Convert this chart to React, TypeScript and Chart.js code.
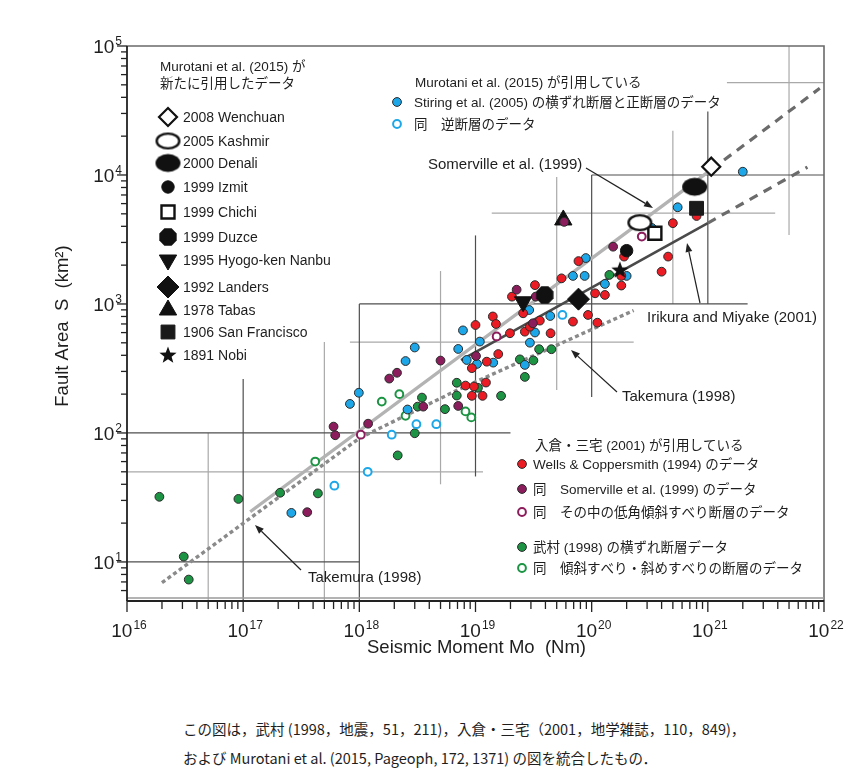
import React, { useEffect, useRef } from 'react';
import { Chart, registerables } from 'chart.js';
import { drawPoint } from 'chart.js/helpers';

Chart.register(...registerables);

// ---------------- data ----------------
const xTickExponents = [16, 17, 18, 19, 20, 21, 22];
const yTickExponents = [1, 2, 3, 4, 5];
const xAxisTitle = 'Seismic Moment Mo  (Nm)';
const yAxisTitle = 'Fault Area  S  (km²)';

// Stirling et al. (2005) strike-slip & normal (blue filled)
const stirlingSsMo = [2.6e17, 8.3e17, 9.9e17, 2.5e18, 3.0e18, 2.6e18, 7.1e18, 7.8e18, 8.4e18, 1.03e19, 1.09e19, 1.42e19, 2.66e19, 2.94e19, 3.25e19, 2.9e19, 4.4e19, 6.9e19, 8.7e19, 8.9e19, 1.3e20, 2.0e20, 3.3e20, 5.5e20, 2.0e21];
const stirlingSsS = [24, 168, 205, 361, 460, 152, 448, 624, 368, 343, 511, 351, 337, 501, 601, 898, 807, 1650, 1650, 2270, 1430, 1650, 3880, 5620, 10600];
// Stirling et al. (2005) reverse (blue open)
const stirlingRevMo = [6.1e17, 1.18e18, 1.9e18, 3.1e18, 4.6e18, 5.6e19];
const stirlingRevS = [39, 50, 97, 117, 117, 822];
// Wells & Coppersmith (1994) (red)
const wellsMo = [8.2e18, 9.7e18, 1.23e19, 9.3e18, 1.15e19, 9.3e18, 1.25e19, 1.57e19, 1.0e19, 1.41e19, 1.5e19, 1.98e19, 2.06e19, 2.57e19, 2.66e19, 2.94e19, 3.25e19, 3.58e19, 4.43e19, 5.5e19, 6.9e19, 7.7e19, 9.3e19, 1.12e20, 1.07e20, 1.3e20, 1.8e20, 1.8e20, 1.9e20, 4.0e20, 4.55e20, 5.0e20, 8.0e20];
const wellsS = [233, 229, 246, 194, 194, 318, 357, 409, 687, 800, 700, 593, 1140, 847, 610, 667, 1400, 743, 593, 1580, 730, 2150, 822, 716, 1210, 1175, 1390, 1650, 2330, 1780, 2330, 4230, 4810];
// Somerville et al. (1999) data (purple filled)
const somDataMo = [3.56e17, 6.0e17, 6.2e17, 1.19e18, 1.81e18, 2.11e18, 5.0e18, 3.55e18, 7.1e18, 1.01e19, 2.26e19, 3.12e19, 3.3e19, 1.53e20, 5.8e19];
const somDataS = [24.3, 112, 96, 118, 264, 293, 364, 160, 162, 395, 1290, 708, 1140, 2780, 4330];
// Somerville low-angle dip-slip (purple open)
const somLowMo = [1.03e18, 1.52e19, 2.7e20];
const somLowS = [97, 560, 3330];
// Takemura (1998) strike-slip (green filled)
const takSsMo = [1.9e16, 3.08e16, 3.4e16, 9.1e16, 2.08e17, 4.4e17, 2.14e18, 3.0e18, 3.18e18, 3.46e18, 5.46e18, 6.9e18, 6.9e18, 1.05e19, 1.66e19, 2.41e19, 2.66e19, 3.15e19, 3.53e19, 4.5e19, 1.42e20];
const takSsS = [32, 11.0, 7.3, 30.8, 34.4, 34, 67, 99.5, 160, 188, 153, 245, 195, 224, 194, 372, 272, 365, 446, 446, 1680];
// Takemura (1998) dip-slip / oblique (green open)
const takDipMo = [4.17e17, 1.56e18, 2.21e18, 2.5e18, 8.2e18, 9.2e18];
const takDipS = [60, 175, 200, 136, 147, 132];

// Murotani et al. (2015) newly added events
const eventNames = ['2008 Wenchuan', '2005 Kashmir', '2000 Denali', '1999 Izmit', '1999 Chichi', '1999 Duzce', '1995 Hyogo-ken Nanbu', '1992 Landers', '1978 Tabas', '1906 San Francisco', '1891 Nobi'];
const eventMo = [1.07e21, 2.6e20, 7.7e20, 2.0e20, 3.5e20, 3.95e19, 2.57e19, 7.7e19, 5.7e19, 8.0e20, 1.75e20];
const eventS = [11600, 4270, 8100, 2590, 3530, 1175, 1040, 1090, 4480, 5520, 1840];

// scaling relations
const somervilleMo = [1.15e17, 1.07e21];
const somervilleS = [24.5, 11000];
const somervilleExtMo = [1.07e21, 9.2e21];
const somervilleExtS = [11000, 47000];
const irikuraMo = [7.5e18, 1.0e21];
const irikuraS = [367, 4240];
const irikuraExtMo = [1.0e21, 7.2e21];
const irikuraExtS = [4240, 11500];
const takemuraMo = [2.0e16, 3.1e17, 1.0e18, 6.9e18, 2.3e20];
const takemuraS = [6.9, 42, 91, 214, 890];

// reference cross lines [Mo1, S1, Mo2, S2]
const decadeSegs = [
  [1e16, 10, 1e18, 10],
  [1e17, 5.07, 1e17, 262],
  [1e16, 100, 2e19, 100],
  [1e18, 5.07, 1e18, 1000],
  [1e18, 1000, 2.2e21, 1000],
  [1e19, 46, 1e19, 3400],
  [1e20, 190, 1e20, 1e4],
  [1e20, 1e4, 1e22, 1e4],
  [1e21, 1000, 1e21, 3.1e4],
];
const halfSegs = [
  [5e16, 5.07, 5e16, 100],
  [1e16, 50, 1.16e19, 50],
  [5e17, 5.07, 5e17, 507],
  [8.3e17, 507, 2.3e20, 507],
  [5e18, 40, 5e18, 1800],
  [1.38e19, 5070, 3.8e21, 5070],
  [5e19, 215, 5e19, 9640],
  [5e20, 1000, 5e20, 2.2e4],
  [5e21, 3430, 5e21, 1e5],
  [1.46e21, 5.2e4, 1e22, 5.2e4],
];

// ---------------- styles ----------------
const FONT = '"Liberation Sans", Arial, "Noto Sans CJK JP", sans-serif';
const TXT = '#1e1e1e';
const BLUE = '#1da7e8';
const RED = '#ec1c24';
const PURPLE = '#8b1d5c';
const GREEN = '#1c9444';
const OUTLINE = '#2a2a2a';

const zip = (xs: number[], ys: number[]) => xs.map((x, i) => ({ x, y: ys[i] }));

function makeCanvas(w: number, h: number, draw: (c: CanvasRenderingContext2D) => void) {
  const c = document.createElement('canvas');
  c.width = w;
  c.height = h;
  const ctx = c.getContext('2d')!;
  draw(ctx);
  return c;
}

function buildMarkers() {
  const kashmir = makeCanvas(27, 19, (c) => {
    c.beginPath();
    c.ellipse(13.5, 9.5, 11.3, 7.4, 0, 0, Math.PI * 2);
    c.fillStyle = '#fff';
    c.fill();
    c.lineWidth = 2.4;
    c.strokeStyle = '#111';
    c.stroke();
  });
  const denali = makeCanvas(27, 21, (c) => {
    c.beginPath();
    c.ellipse(13.5, 10.5, 12.5, 9, 0, 0, Math.PI * 2);
    c.fillStyle = '#111';
    c.fill();
  });
  const duzce = makeCanvas(20, 20, (c) => {
    c.beginPath();
    for (let k = 0; k < 8; k++) {
      const a = Math.PI / 8 + (k * Math.PI) / 4;
      const px = 10 + Math.cos(a) * 9.4;
      const py = 10 + Math.sin(a) * 9.4;
      if (k === 0) c.moveTo(px, py);
      else c.lineTo(px, py);
    }
    c.closePath();
    c.fillStyle = '#111';
    c.fill();
  });
  const nobi = makeCanvas(20, 20, (c) => {
    c.beginPath();
    for (let k = 0; k < 10; k++) {
      const r = k % 2 === 0 ? 9 : 3.8;
      const a = -Math.PI / 2 + (k * Math.PI) / 5;
      const px = 10 + Math.cos(a) * r;
      const py = 10.5 + Math.sin(a) * r;
      if (k === 0) c.moveTo(px, py);
      else c.lineTo(px, py);
    }
    c.closePath();
    c.fillStyle = '#111';
    c.fill();
  });
  return [
    { pointStyle: 'rectRot', radius: 9, rotation: 0, bg: '#fff', border: '#111', bw: 2.2 },
    { pointStyle: kashmir, radius: 10, rotation: 0, bg: '#fff', border: '#111', bw: 0 },
    { pointStyle: denali, radius: 10, rotation: 0, bg: '#111', border: '#111', bw: 0 },
    { pointStyle: 'circle', radius: 6.2, rotation: 0, bg: '#111', border: '#111', bw: 1 },
    { pointStyle: 'rect', radius: 9.2, rotation: 0, bg: '#fff', border: '#111', bw: 2.4 },
    { pointStyle: duzce, radius: 10, rotation: 0, bg: '#111', border: '#111', bw: 0 },
    { pointStyle: 'triangle', radius: 10, rotation: 180, bg: '#111', border: '#111', bw: 1 },
    { pointStyle: 'rectRot', radius: 11, rotation: 0, bg: '#111', border: '#111', bw: 1 },
    { pointStyle: 'triangle', radius: 10, rotation: 0, bg: '#111', border: '#111', bw: 1 },
    { pointStyle: 'rect', radius: 9.8, rotation: 0, bg: '#1a1a1a', border: '#1a1a1a', bw: 1 },
    { pointStyle: nobi, radius: 10, rotation: 0, bg: '#111', border: '#111', bw: 0 },
  ];
}

function drawPow(ctx: CanvasRenderingContext2D, x: number, y: number, exp: number, align: 'center' | 'right') {
  ctx.save();
  ctx.textAlign = 'left';
  ctx.textBaseline = 'alphabetic';
  ctx.fillStyle = TXT;
  ctx.font = `19px ${FONT}`;
  const w1 = ctx.measureText('10').width;
  ctx.font = `12px ${FONT}`;
  const w2 = ctx.measureText(String(exp)).width;
  const total = w1 + w2 + 1;
  const x0 = align === 'center' ? x - total / 2 : x - total;
  ctx.font = `19px ${FONT}`;
  ctx.fillText('10', x0, y);
  ctx.font = `12px ${FONT}`;
  ctx.fillText(String(exp), x0 + w1 + 1, y - 8);
  ctx.restore();
}

function arrow(ctx: CanvasRenderingContext2D, x1: number, y1: number, x2: number, y2: number) {
  const ang = Math.atan2(y2 - y1, x2 - x1);
  const L = 9;
  const W = 3.4;
  const bx = x2 - Math.cos(ang) * L;
  const by = y2 - Math.sin(ang) * L;
  ctx.save();
  ctx.strokeStyle = '#222';
  ctx.fillStyle = '#222';
  ctx.lineWidth = 1.2;
  ctx.beginPath();
  ctx.moveTo(x1, y1);
  ctx.lineTo(bx, by);
  ctx.stroke();
  ctx.beginPath();
  ctx.moveTo(x2, y2);
  ctx.lineTo(bx + Math.sin(ang) * W, by - Math.cos(ang) * W);
  ctx.lineTo(bx - Math.sin(ang) * W, by + Math.cos(ang) * W);
  ctx.closePath();
  ctx.fill();
  ctx.restore();
}

function legendDot(ctx: CanvasRenderingContext2D, x: number, y: number, color: string, open: boolean) {
  ctx.save();
  ctx.beginPath();
  if (open) {
    ctx.arc(x, y, 3.9, 0, Math.PI * 2);
    ctx.fillStyle = '#fff';
    ctx.fill();
    ctx.lineWidth = 2;
    ctx.strokeStyle = color;
    ctx.stroke();
  } else {
    ctx.arc(x, y, 4.4, 0, Math.PI * 2);
    ctx.fillStyle = color;
    ctx.fill();
    ctx.lineWidth = 1;
    ctx.strokeStyle = OUTLINE;
    ctx.stroke();
  }
  ctx.restore();
}

function makeDecor(markers: any[]) {
  return {
    id: 'decor',
    afterDatasetsDraw(chart: any) {
      const { ctx, chartArea: a } = chart;
      const xs = chart.scales.x;
      const ys = chart.scales.y;
      ctx.save();
      // frame
      ctx.lineCap = 'butt';
      ctx.strokeStyle = '#6a6a6a';
      ctx.lineWidth = 1.6;
      ctx.beginPath();
      ctx.moveTo(a.left, a.top);
      ctx.lineTo(a.right, a.top);
      ctx.lineTo(a.right, a.bottom);
      ctx.stroke();
      ctx.strokeStyle = '#9a9a9a';
      ctx.lineWidth = 1.5;
      ctx.beginPath();
      ctx.moveTo(a.left, a.bottom - 2);
      ctx.lineTo(a.right, a.bottom - 2);
      ctx.stroke();
      ctx.strokeStyle = '#222';
      ctx.lineWidth = 1.8;
      ctx.beginPath();
      ctx.moveTo(a.left, a.top);
      ctx.lineTo(a.left, a.bottom + 1);
      ctx.moveTo(a.left, a.bottom + 1);
      ctx.lineTo(a.right, a.bottom + 1);
      ctx.stroke();

      // x ticks
      ctx.lineWidth = 1.3;
      ctx.strokeStyle = '#222';
      for (const e of xTickExponents) {
        const px = xs.getPixelForValue(Math.pow(10, e));
        ctx.beginPath();
        ctx.moveTo(px, a.bottom);
        ctx.lineTo(px, a.bottom + 12);
        ctx.stroke();
        if (e < 22) {
          for (let m = 2; m <= 9; m++) {
            const mx = xs.getPixelForValue(m * Math.pow(10, e));
            ctx.beginPath();
            ctx.moveTo(mx, a.bottom + 2);
            ctx.lineTo(mx, a.bottom + 9);
            ctx.stroke();
          }
        }
        drawPow(ctx, px + 2, a.bottom + 37, e, 'center');
      }
      // y ticks
      for (let d = 0; d <= 4; d++) {
        for (let m = 2; m <= 9; m++) {
          const v = m * Math.pow(10, d);
          if (v < ys.min) continue;
          const py = ys.getPixelForValue(v);
          ctx.beginPath();
          ctx.moveTo(a.left - 6, py);
          ctx.lineTo(a.left, py);
          ctx.stroke();
        }
      }
      for (const e of yTickExponents) {
        const py = ys.getPixelForValue(Math.pow(10, e));
        ctx.beginPath();
        ctx.moveTo(a.left - 10, py);
        ctx.lineTo(a.left, py);
        ctx.stroke();
        drawPow(ctx, a.left - 5, py + 7, e, 'right');
      }

      // axis titles
      ctx.fillStyle = TXT;
      ctx.font = `18.5px ${FONT}`;
      ctx.textAlign = 'center';
      ctx.textBaseline = 'middle';
      ctx.fillText(xAxisTitle, (a.left + a.right) / 2 + 1, a.bottom + 48);
      ctx.save();
      ctx.translate(55, 318);
      ctx.rotate(-Math.PI / 2);
      ctx.fillText(yAxisTitle, 0, 0);
      ctx.restore();
      ctx.restore();
    },
    afterDraw(chart: any) {
      const { ctx } = chart;
      ctx.save();
      ctx.fillStyle = TXT;
      ctx.textBaseline = 'middle';
      ctx.textAlign = 'left';

      // legend 1: newly added events
      ctx.font = `13.5px ${FONT}`;
      ctx.fillText('Murotani et al. (2015) が', 152, 59);
      ctx.fillText('新たに引用したデータ', 152, 76);
      const rowY = [109, 133, 155, 179, 204, 229, 252, 279, 302, 324, 347];
      eventNames.forEach((name, i) => {
        const mk = markers[i];
        ctx.save();
        ctx.fillStyle = mk.bg;
        ctx.strokeStyle = mk.border;
        ctx.lineWidth = mk.bw;
        drawPoint(ctx, { pointStyle: mk.pointStyle, radius: mk.radius, rotation: mk.rotation, borderWidth: mk.bw }, 160, rowY[i]);
        ctx.restore();
        ctx.font = `14px ${FONT}`;
        ctx.fillText(name, 175, rowY[i] + 1);
      });

      // legend 2
      ctx.font = `13.5px ${FONT}`;
      ctx.fillText('Murotani et al. (2015) が引用している', 407, 75);
      legendDot(ctx, 389, 94, BLUE, false);
      ctx.fillText('Stiring et al. (2005) の横ずれ断層と正断層のデータ', 406, 95);
      legendDot(ctx, 389, 116, BLUE, true);
      ctx.fillText('同　逆断層のデータ', 406, 117);

      // legend 3
      ctx.fillText('入倉・三宅 (2001) が引用している', 527, 438);
      const l3 = [
        { y: 456, c: RED, o: false, t: 'Wells & Coppersmith (1994) のデータ' },
        { y: 481, c: PURPLE, o: false, t: '同　Somerville et al. (1999) のデータ' },
        { y: 504, c: PURPLE, o: true, t: '同　その中の低角傾斜すべり断層のデータ' },
        { y: 539, c: GREEN, o: false, t: '武村 (1998) の横ずれ断層データ' },
        { y: 560, c: GREEN, o: true, t: '同　傾斜すべり・斜めすべりの断層のデータ' },
      ];
      l3.forEach((r) => {
        legendDot(ctx, 514, r.y, r.c, r.o);
        ctx.fillText(r.t, 525, r.y + 1);
      });

      // annotations
      ctx.font = `15px ${FONT}`;
      ctx.fillText('Somerville et al. (1999)', 420, 157);
      arrow(ctx, 578, 160, 645, 200);
      ctx.fillText('Irikura and Miyake (2001)', 639, 310);
      arrow(ctx, 692, 295, 679, 235);
      ctx.fillText('Takemura (1998)', 614, 389);
      arrow(ctx, 609, 384, 563, 342);
      ctx.fillText('Takemura (1998)', 300, 570);
      arrow(ctx, 293, 562, 247, 517);
      ctx.restore();
    },
  };
}

export default function App() {
  const ref = useRef<HTMLCanvasElement | null>(null);

  useEffect(() => {
    const canvas = ref.current;
    if (!canvas) return;
    const markers = buildMarkers();

    const segSet = (segs: number[][], color: string, order: number) =>
      segs.map((s) => ({
        type: 'scatter' as const,
        data: [{ x: s[0], y: s[1] }, { x: s[2], y: s[3] }],
        showLine: true,
        borderColor: color,
        borderWidth: 1.2,
        pointRadius: 0,
        order,
      }));

    const fitLine = (xs: number[], ysv: number[], color: string, width: number, dash: number[], order: number) => ({
      type: 'scatter' as const,
      data: zip(xs, ysv),
      showLine: true,
      borderColor: color,
      borderWidth: width,
      borderDash: dash,
      borderCapStyle: 'butt',
      pointRadius: 0,
      order,
    });

    const dots = (xs: number[], ysv: number[], color: string, open: boolean, order: number) => ({
      type: 'scatter' as const,
      data: zip(xs, ysv),
      pointStyle: 'circle',
      pointRadius: open ? 3.9 : 4.4,
      pointBackgroundColor: open ? '#fff' : color,
      pointBorderColor: open ? color : OUTLINE,
      pointBorderWidth: open ? 2 : 1,
      showLine: false,
      order,
    });

    const events = eventNames.map((name, i) => {
      const mk = markers[i];
      return {
        type: 'scatter' as const,
        label: name,
        data: [{ x: eventMo[i], y: eventS[i] }],
        pointStyle: mk.pointStyle,
        pointRadius: mk.radius,
        pointRotation: mk.rotation,
        pointBackgroundColor: mk.bg,
        pointBorderColor: mk.border,
        pointBorderWidth: mk.bw,
        showLine: false,
        order: name === '1978 Tabas' ? 17.5 : 1,
      };
    });

    const datasets: any[] = [
      ...segSet(halfSegs, '#a9a9a9', 101),
      ...segSet(decadeSegs, '#4e4e4e', 100),
      fitLine(takemuraMo, takemuraS, '#8a8a8a', 3.4, [4, 3], 54),
      fitLine(somervilleMo, somervilleS, '#b3b3b3', 3.4, [], 53),
      fitLine(somervilleExtMo, somervilleExtS, '#6b6b6b', 3.2, [9, 7], 52),
      fitLine(irikuraMo, irikuraS, '#4a4a4a', 2.6, [], 51),
      fitLine(irikuraExtMo, irikuraExtS, '#6b6b6b', 3.2, [9, 7], 50),
      dots(takDipMo, takDipS, GREEN, true, 22),
      dots(takSsMo, takSsS, GREEN, false, 21),
      dots(stirlingRevMo, stirlingRevS, BLUE, true, 20),
      dots(stirlingSsMo, stirlingSsS, BLUE, false, 19),
      dots(wellsMo, wellsS, RED, false, 18),
      dots(somDataMo, somDataS, PURPLE, false, 17),
      dots(somLowMo, somLowS, PURPLE, true, 16),
      ...events,
    ];

    const chart = new Chart(canvas, {
      type: 'scatter',
      data: { datasets },
      options: {
        animation: false,
        responsive: false,
        events: [],
        layout: { padding: { left: 119, right: 27, top: 38, bottom: 88 } },
        scales: {
          x: { type: 'logarithmic', min: 1e16, max: 1e22, display: false },
          y: { type: 'logarithmic', min: 5.07, max: 1e5, display: false },
        },
        plugins: { legend: { display: false }, tooltip: { enabled: false } },
      },
      plugins: [makeDecor(markers)],
    } as any);
    return () => chart.destroy();
  }, []);

  return (
    <div style={{ width: 843, fontFamily: FONT }}>
      <div style={{ width: 843, height: 680, position: 'relative' }}>
        <canvas ref={ref} width={843} height={680} style={{ display: 'block', width: 843, height: 680 }} />
      </div>
      <div style={{ marginTop: 26, paddingLeft: 175, fontSize: 14.5, lineHeight: '29px', color: TXT, fontFamily: '"Noto Sans CJK JP", sans-serif' }}>
        <div>この図は，武村 (1998，地震，51，211)，入倉・三宅（2001，地学雑誌，110，849)，</div>
        <div>および Murotani et al. (2015, Pageoph, 172, 1371) の図を統合したもの．</div>
      </div>
    </div>
  );
}
